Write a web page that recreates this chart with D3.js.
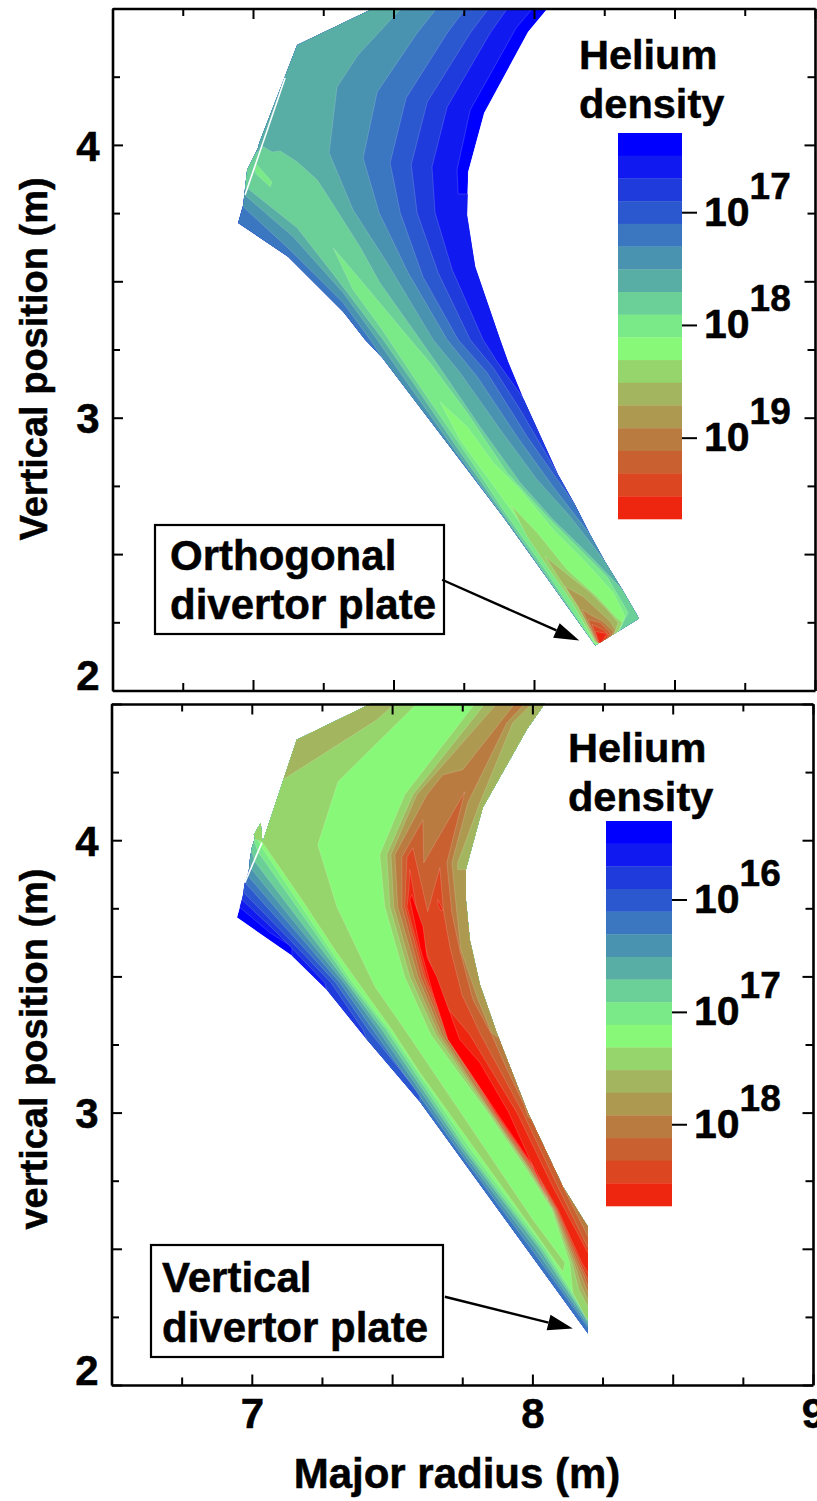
<!DOCTYPE html>
<html>
<head>
<meta charset="utf-8">
<style>
  html, body { margin: 0; padding: 0; background: #fff; overflow: hidden; }
  svg { display: block; }
  text { font-family: "Liberation Sans", Arial, sans-serif; font-weight: bold; fill: #000; stroke: #000; stroke-width: 0.5px; }
</style>
<script src="https://cdn.jsdelivr.net/npm/d3@7"></script>
</head>
<body>
<svg id="chart" width="817" height="1501"></svg>
<script>
/* colour bar, blue (low) to red (high) */
const bandColors = ["#0000ff","#1019f0","#1f3bdc","#2c58cf","#3a77c0","#4992b0","#58ada5","#6bcf98","#7aea88",
  "#88f878","#96d56c","#a3b55e","#ae9950","#ba7b40","#c96030","#dc4620","#ee2610"];
const ridgeRed = "#ff0000";
const topDecades = [17, 18, 19];
const bottomDecades = [16, 17, 18];
const topBarRange = [16.293, 19.717];
const bottomBarRange = [15.297, 18.723];
const xMajor = [6.5, 7, 7.5, 8, 8.5, 9];
const xMinor = [6.75, 7.25, 7.75, 8.25, 8.75];
const yMajor = [2, 2.5, 3, 3.5, 4, 4.5];
const yMinor = [2.25, 2.75, 3.25, 3.75, 4.25];

/* ---- orthogonal plate: contour polygons, [R, Z] in metres ---- */
const topEdge = [[7.424,4.498],[8.047,4.498],[7.979,4.414],[7.823,4.117],[7.766,3.901],[7.762,3.743],[7.791,3.553],[7.880,3.286],[7.908,3.205],[7.961,3.073],[8.086,2.791],[8.146,2.681],[8.200,2.571],[8.253,2.472],[8.314,2.370],[8.374,2.264],[8.218,2.165],[7.890,2.637],[7.460,3.220],[7.399,3.286],[7.321,3.388],[7.125,3.590],[6.947,3.714],[6.965,3.780],[6.979,3.908],[7.018,3.989],[7.022,4.007],[7.157,4.366]];
const topGap = [[7.114,4.245],[6.972,3.817]];
const topBelow = [[8.520,2.260],[8.306,1.894]];
const topAbove = [[6.812,3.432],[6.812,4.531]];
const tipOut = [8.271,2.150];

const topC2 = [[7.993,4.498],[7.936,4.428],[7.773,4.128],[7.726,3.908],[7.730,3.820],[7.773,3.820]];
const topC3 = [[7.904,4.498],[7.844,4.410],[7.691,4.139],[7.637,3.919],[7.648,3.751],[7.709,3.542],[7.819,3.286],[7.869,3.205],[7.961,3.073]];
const topC4 = [[7.837,4.498],[7.773,4.410],[7.620,4.157],[7.563,3.927],[7.584,3.751],[7.659,3.531],[7.773,3.286],[7.855,3.183],[7.951,3.029],[8.086,2.791]];
const topC5 = [[7.755,4.498],[7.691,4.410],[7.545,4.172],[7.488,3.934],[7.524,3.751],[7.605,3.516],[7.730,3.286],[7.833,3.165],[7.976,2.930],[8.146,2.681]];
const topC6 = [[7.652,4.498],[7.584,4.410],[7.442,4.194],[7.392,3.952],[7.449,3.751],[7.552,3.531],[7.691,3.286],[7.798,3.150],[7.940,2.930],[8.068,2.747],[8.200,2.571]];
const topC6Low = [[7.460,3.220],[7.417,3.286],[7.321,3.421],[7.132,3.615],[6.965,3.773],[6.926,3.806]];
const topC7 = [[7.527,4.498],[7.499,4.469],[7.374,4.330],[7.299,4.212],[7.271,3.971],[7.356,3.762],[7.477,3.568],[7.641,3.286],[7.737,3.165],[7.880,2.956],[8.011,2.773],[8.129,2.637],[8.253,2.472]];
const topC7Low = [[7.890,2.637],[7.705,2.901],[7.549,3.128],[7.442,3.286],[7.321,3.458],[7.143,3.663],[6.979,3.809],[6.926,3.853]];
const topC8 = [[7.036,3.993],[7.068,3.974],[7.097,3.978],[7.157,3.938],[7.228,3.872],[7.282,3.787],[7.381,3.626],[7.452,3.494],[7.595,3.286],[7.677,3.165],[7.808,2.967],[7.951,2.762],[8.068,2.626],[8.189,2.505],[8.314,2.370]];
const topC8Low = [[8.122,2.304],[7.880,2.663],[7.719,2.901],[7.570,3.128],[7.463,3.286],[7.310,3.494],[7.157,3.696],[6.983,3.839],[6.926,3.890]];
const topC9 = [[7.285,3.623],[7.392,3.494],[7.531,3.322],[7.630,3.201],[7.762,3.018],[7.904,2.798],[8.047,2.637],[8.175,2.505],[8.260,2.417],[8.335,2.286],tipOut,[8.210,2.176],[8.047,2.432],[7.890,2.663],[7.773,2.846],[7.595,3.113],[7.460,3.322],[7.356,3.469]];
const topC9b = [[7.008,3.934],[7.068,3.864],[7.061,3.846],[7.008,3.897]];
const topC10 = [[7.666,3.058],[7.762,2.967],[7.855,2.835],[7.951,2.736],[8.068,2.590],[8.175,2.480],[8.282,2.359],[8.324,2.271],tipOut,[8.218,2.168],[8.118,2.359],[8.011,2.527],[7.922,2.656],[7.833,2.784],[7.737,2.919]];
const topC11 = [[7.919,2.678],[8.011,2.579],[8.118,2.443],[8.225,2.344],[8.289,2.271],[8.314,2.249],tipOut,[8.218,2.176],[8.129,2.333],[8.047,2.454],[7.976,2.564]];
const topC12 = [[8.040,2.491],[8.129,2.417],[8.200,2.359],[8.260,2.297],[8.299,2.249],tipOut,[8.218,2.179],[8.164,2.297],[8.093,2.406]];
const topC13 = [[8.111,2.381],[8.175,2.344],[8.225,2.297],[8.271,2.253],[8.289,2.223],tipOut,[8.218,2.187],[8.157,2.308]];
const topC14 = [[8.171,2.297],[8.200,2.278],[8.246,2.253],[8.282,2.216],tipOut,[8.221,2.183]];
const topC15 = [[8.193,2.260],[8.235,2.249],[8.271,2.212],tipOut,[8.225,2.179]];
const topC16 = [[8.207,2.242],[8.246,2.223],[8.264,2.205],[8.257,2.150],[8.228,2.176]];
const topC17 = [[8.218,2.216],[8.260,2.209],[8.243,2.179],[8.235,2.168]];

/* ---- vertical plate ---- */
const botEdge = [[7.424,4.501],[8.044,4.501],[7.980,4.406],[7.823,4.119],[7.763,3.892],[7.763,3.782],[7.777,3.635],[7.813,3.470],[7.873,3.293],[7.984,3.000],[8.109,2.728],[8.198,2.581],[8.198,2.189],[7.599,3.040],[7.410,3.268],[7.267,3.451],[7.143,3.576],[6.947,3.716],[6.968,3.796],[6.975,3.844],[6.989,3.885],[6.993,3.929],[7.000,3.972],[7.011,4.009],[7.007,4.020],[7.032,4.064],[7.036,4.009],[7.039,3.994],[7.160,4.369]];
const botGap = [[7.036,3.991],[6.975,3.844]];
const botBelow = [[7.171,3.415],[8.098,1.946],[8.383,1.946]];
const botRight = [8.383,4.553];
const botLeft = [6.815,4.553];

const botL2 = [[6.954,3.756],[7.064,3.661],[7.143,3.609],[7.143,3.576]];
const botL3 = [[6.964,3.782],[7.089,3.661],[7.260,3.477],[7.267,3.451]];
const botL4 = [[6.972,3.807],[7.111,3.661],[7.282,3.477],[7.396,3.305],[7.410,3.268]];
const botL5 = [[6.982,3.837],[7.136,3.661],[7.299,3.477],[7.414,3.305],[7.599,3.066],[7.599,3.040]];
const botL6 = [[6.989,3.866],[7.160,3.661],[7.314,3.477],[7.431,3.305],[7.734,2.864],[7.998,2.497],[8.198,2.211],[8.383,2.211]];
const botL7 = [[7.000,3.892],[7.182,3.661],[7.328,3.477],[7.449,3.305],[7.745,2.864],[8.012,2.497],[8.198,2.221],[8.383,2.221]];
const botL8 = [[7.011,3.921],[7.203,3.661],[7.339,3.477],[7.463,3.305],[7.756,2.864],[8.027,2.497],[8.198,2.232],[8.383,2.232]];
const botL9 = [[7.022,3.958],[7.225,3.661],[7.349,3.477],[7.478,3.305],[7.766,2.864],[8.037,2.497],[8.198,2.240],[8.383,2.240]];
const botL10 = [[7.032,3.980],[7.239,3.661],[7.360,3.477],[7.488,3.305],[7.781,2.864],[8.048,2.497],[8.198,2.247],[8.383,2.247]];
const botRidge11 = [[7.588,4.501],[7.307,4.215],[7.235,3.983],[7.303,3.756],[7.439,3.462],[7.545,3.305],[8.002,2.607],[8.116,2.449],[8.109,2.416],[8.002,2.570],[7.599,3.147],[7.499,3.305],[7.303,3.587],[7.171,3.793],[7.036,3.994],[6.922,4.039],[7.100,4.553],[7.588,4.553]];
const botRidge12 = [[7.510,4.501],[7.446,4.442],[7.111,4.222],[7.029,4.222],[7.100,4.553],[7.510,4.553]];
const botB11 = [[7.795,4.501],[7.545,4.167],[7.456,3.947],[7.474,3.756],[7.545,3.499],[7.638,3.286],[7.841,3.000],[7.980,2.790],[8.069,2.644],[8.133,2.449],[8.144,2.339],[8.194,2.240],[8.383,2.240],botRight,[7.795,4.553]];
const botB12 = [[7.831,4.501],[7.574,4.167],[7.481,3.947],[7.492,3.756],[7.563,3.499],[7.656,3.286],[7.847,3.000],[7.986,2.790],[8.073,2.644],[8.141,2.449],[8.166,2.350],[8.198,2.287],[8.383,2.287],botRight,[7.831,4.553]];
const botB13 = [[7.873,4.501],[7.588,4.167],[7.496,3.947],[7.506,3.756],[7.577,3.499],[7.667,3.286],[7.852,3.000],[7.991,2.790],[8.076,2.644],[8.148,2.449],[8.173,2.368],[8.198,2.313],[8.383,2.313],[8.383,3.855],[7.777,3.892],[7.734,3.892],[7.734,3.917],[7.813,4.138],[7.930,4.431],[7.998,4.501],[7.998,4.553],[7.873,4.553]];
const botB14 = [[7.937,4.501],[7.752,4.259],[7.681,4.240],[7.624,4.167],[7.510,3.947],[7.520,3.756],[7.592,3.499],[7.677,3.286],[7.855,3.000],[7.994,2.790],[8.080,2.644],[8.155,2.449],[8.180,2.386],[8.198,2.339],[8.383,2.339],[8.383,3.194],[7.873,3.279],[7.855,3.293],[7.806,3.415],[7.745,3.598],[7.731,3.734],[7.713,3.917],[7.770,4.138],[7.909,4.431],[7.973,4.501],[7.973,4.553],[7.937,4.553]];
const botB15 = [[7.759,4.178],[7.695,3.917],[7.713,3.734],[7.741,3.598],[7.788,3.415],[7.855,3.286],[7.902,3.176],[7.970,3.029],[7.984,2.985],[8.151,2.864],[8.109,2.728],[8.198,2.545],[8.383,2.545],[8.383,2.361],[8.198,2.361],[8.183,2.405],[8.162,2.449],[8.084,2.644],[8.000,2.790],[7.861,3.000],[7.688,3.286],[7.602,3.499],[7.535,3.756],[7.535,3.939],[7.610,4.075],[7.613,3.917]];
const botB16 = [[7.670,3.899],[7.684,3.734],[7.706,3.609],[7.749,3.433],[7.816,3.286],[7.966,3.000],[8.091,2.728],[8.198,2.504],[8.383,2.504],[8.383,2.386],[8.198,2.386],[8.169,2.449],[8.087,2.644],[8.005,2.790],[7.864,3.000],[7.695,3.286],[7.613,3.499],[7.545,3.756],[7.553,3.939],[7.574,3.972],[7.627,3.738]];
const botB17 = [[7.563,3.892],[7.599,3.683],[7.635,3.550],[7.688,3.396],[7.777,3.286],[7.945,3.000],[8.073,2.728],[8.198,2.485],[8.383,2.485],[8.383,2.412],[8.198,2.412],[8.176,2.449],[8.091,2.644],[8.009,2.790],[7.868,3.000],[7.699,3.286],[7.620,3.499],[7.553,3.756],[7.560,3.818]];
const botB17b = [[7.663,3.782],[7.681,3.745],[7.674,3.741],[7.663,3.763]];
const botB18 = [[7.570,3.800],[7.610,3.683],[7.624,3.572],[7.659,3.499],[7.741,3.268],[7.813,3.183],[7.916,3.000],[8.055,2.680],[8.012,2.790],[7.873,3.000],[7.699,3.268],[7.645,3.440],[7.599,3.609],[7.563,3.782]];

/* painter's order, each ring filled with the band colour above its level */
const c = i => bandColors[i - 1];
const topRings = [
  [topEdge, c(1)],
  [[...topC2, ...topBelow, ...topAbove], c(2)],
  [[...topC3, ...topBelow, ...topAbove], c(3)],
  [[...topC4, ...topBelow, ...topAbove], c(4)],
  [[...topC5, ...topBelow, ...topAbove], c(5)],
  [[...topC6, ...topBelow, ...topC6Low, ...topAbove], c(6)],
  [[...topC7, ...topBelow, ...topC7Low, ...topAbove], c(7)],
  [[...topC8, ...topBelow, ...topC8Low], c(8)],
  [topC9, c(9)], [topC9b, c(9)], [topC10, c(10)], [topC11, c(11)], [topC12, c(12)],
  [topC13, c(13)], [topC14, c(14)], [topC15, c(15)], [topC16, c(16)], [topC17, c(17)]
];
const botRings = [
  [botEdge, c(1)],
  [[...botL2, ...botBelow, botRight, botLeft], c(2)],
  [[...botL3, ...botBelow, botRight, botLeft], c(3)],
  [[...botL4, ...botBelow, botRight, botLeft], c(4)],
  [[...botL5, ...botBelow, botRight, botLeft], c(5)],
  [[...botL6, botRight, botLeft], c(6)],
  [[...botL7, botRight, botLeft], c(7)],
  [[...botL8, botRight, botLeft], c(8)],
  [[...botL9, botRight, botLeft], c(9)],
  [[...botL10, botRight, botLeft], c(10)],
  [botRidge11, c(11)], [botRidge12, c(12)],
  [botB11, c(11)], [botB12, c(12)], [botB13, c(13)], [botB14, c(14)],
  [botB15, c(15)], [botB16, c(16)], [botB17, c(17)], [botB17b, c(17)], [botB18, ridgeRed]
];

const svg = d3.select("#chart");
const FONT = 42;

function drawPanel(p) {
  const x = d3.scaleLinear().domain([6.5, 9]).range(p.xRange);
  const y = d3.scaleLinear().domain([2, 4.5]).range(p.yRange);
  const line = d3.line().x(d => x(d[0])).y(d => y(d[1])).curve(d3.curveLinearClosed);
  const g = svg.append("g");

  // contour bands, clipped to the plasma edge
  g.append("clipPath").attr("id", p.id).append("path").attr("d", line(p.edge));
  const bands = g.append("g").attr("clip-path", `url(#${p.id})`);
  bands.selectAll("path").data(p.rings).join("path")
    .attr("d", d => line(d[0]))
    .attr("fill", d => d[1])
    .attr("stroke", "rgba(255,255,255,0.28)")
    .attr("stroke-width", 0.6);
  g.append("path")
    .attr("d", d3.line().x(d => x(d[0])).y(d => y(d[1]))(p.gap))
    .attr("stroke", "#fff").attr("stroke-width", 1.6).attr("fill", "none");

  // frame, inward ticks on all four sides
  const xTicks = [...xMajor, ...xMinor], yTicks = [...yMajor, ...yMinor];
  const fmtX = v => (p.xLabels && Number.isInteger(v)) ? v : "";
  const fmtY = v => Number.isInteger(v) ? v : "";
  const blank = () => "";
  const [xl, xr] = p.xRange, [yb, yt] = p.yRange;
  const sides = [
    [d3.axisBottom(x).tickValues(xTicks).tickFormat(fmtX).tickPadding(13), [0, yb], "x", -1],
    [d3.axisTop(x).tickValues(xTicks).tickFormat(blank), [0, yt], "x", 1],
    [d3.axisLeft(y).tickValues(yTicks).tickFormat(fmtY).tickPadding(13), [xl, 0], "y", 1],
    [d3.axisRight(y).tickValues(yTicks).tickFormat(blank), [xr, 0], "y", -1]
  ];
  sides.forEach(([axis, [tx, ty], dim, sign]) => {
    const a = g.append("g").attr("transform", `translate(${tx},${ty})`)
      .call(axis.tickSizeOuter(0).tickSizeInner(0));
    a.select(".domain").attr("stroke", "#000").attr("stroke-width", 2.6);
    a.selectAll(".tick line").attr("stroke", "#000").attr("stroke-width", 2)
      .attr(dim === "x" ? "y2" : "x2", d => sign * (xMajor.includes(d) || yMajor.includes(d) ? 10.5 : 7.5));
    a.selectAll(".tick text").attr("font-size", FONT).attr("fill", "#000");
    if (dim === "y") a.selectAll(".tick text").attr("dy", d => d === 2 ? "-0.02em" : "0.36em");
  });

  // colour bar
  const bar = d3.scaleBand().domain(d3.range(bandColors.length)).range(p.barY);
  const decade = d3.scaleLog().domain(p.barRange.map(v => Math.pow(10, v))).range(p.barY);
  g.selectAll("rect.bar").data(bandColors).join("rect").attr("class", "bar")
    .attr("x", p.barX[0]).attr("width", p.barX[1] - p.barX[0])
    .attr("y", (d, i) => bar(i)).attr("height", bar.bandwidth() + 0.3)
    .attr("fill", d => d);
  p.decades.forEach(e => {
    const ty = decade(Math.pow(10, e));
    g.append("line").attr("x1", p.barX[1]).attr("x2", p.barX[1] + 15)
      .attr("y1", ty).attr("y2", ty).attr("stroke", "#000").attr("stroke-width", 2);
    const t = g.append("text").attr("x", p.barX[1] + 22).attr("y", ty + 13).attr("font-size", FONT - 1);
    t.append("tspan").text("10");
    t.append("tspan").attr("dy", -27).attr("font-size", 37).text(e);
  });
  g.append("text").attr("x", p.titleX).attr("y", p.titleY).attr("font-size", 41.5).text("Helium");
  g.append("text").attr("x", p.titleX).attr("y", p.titleY + 49).attr("font-size", 41.5).text("density");

  // plate annotation
  const [bx0, by0, bx1, by1] = p.box;
  g.append("rect").attr("x", bx0).attr("y", by0).attr("width", bx1 - bx0).attr("height", by1 - by0)
    .attr("fill", "#fff").attr("stroke", "#000").attr("stroke-width", 2.2);
  p.boxText.forEach((s, i) => g.append("text").attr("x", p.boxTextX).attr("y", p.boxTextY[i])
    .attr("font-size", FONT).text(s));
  const [ax, ay] = [x(p.arrow[0][0]), y(p.arrow[0][1])], [tx, ty] = [x(p.arrow[1][0]), y(p.arrow[1][1])];
  const ang = Math.atan2(ty - ay, tx - ax), len = 25, half = 8;
  const bcx = tx - len * Math.cos(ang), bcy = ty - len * Math.sin(ang);
  g.append("line").attr("x1", ax).attr("y1", ay).attr("x2", bcx).attr("y2", bcy)
    .attr("stroke", "#000").attr("stroke-width", 2.4);
  g.append("path").attr("fill", "#000")
    .attr("d", `M${tx},${ty}L${bcx - half * Math.sin(ang)},${bcy + half * Math.cos(ang)}L${bcx + half * Math.sin(ang)},${bcy - half * Math.cos(ang)}Z`);

  // y title
  g.append("text").attr("transform", `translate(47,${p.yTitleC}) rotate(-90)`)
    .attr("text-anchor", "middle").attr("font-size", 38).text(p.yTitle);
}

drawPanel({
  id: "clip-top", edge: topEdge, rings: topRings, gap: topGap,
  xRange: [112.5, 815], yRange: [690.5, 8.5], xLabels: false,
  barX: [618, 682], barY: [133, 519], barRange: topBarRange, decades: topDecades,
  titleX: 579, titleY: 69,
  box: [155, 525, 444, 634], boxText: ["Orthogonal", "divertor plate"], boxTextX: 170, boxTextY: [570, 619],
  arrow: [[7.673, 2.406], [8.161, 2.183]],
  yTitle: "Vertical position (m)", yTitleC: 359
});
drawPanel({
  id: "clip-bot", edge: botEdge, rings: botRings, gap: botGap,
  xRange: [111.5, 813], yRange: [1385, 704], xLabels: true,
  barX: [606, 672], barY: [821, 1206], barRange: bottomBarRange, decades: bottomDecades,
  titleX: 568, titleY: 762,
  box: [151, 1245, 443, 1357], boxText: ["Vertical", "divertor plate"], boxTextX: 162, boxTextY: [1292, 1342],
  arrow: [[7.688, 2.324], [8.144, 2.207]],
  yTitle: "vertical position (m)", yTitleC: 1049
});

svg.append("text").attr("x", 457).attr("y", 1488).attr("text-anchor", "middle")
  .attr("font-size", FONT).text("Major radius (m)");
</script>
</body>
</html>
